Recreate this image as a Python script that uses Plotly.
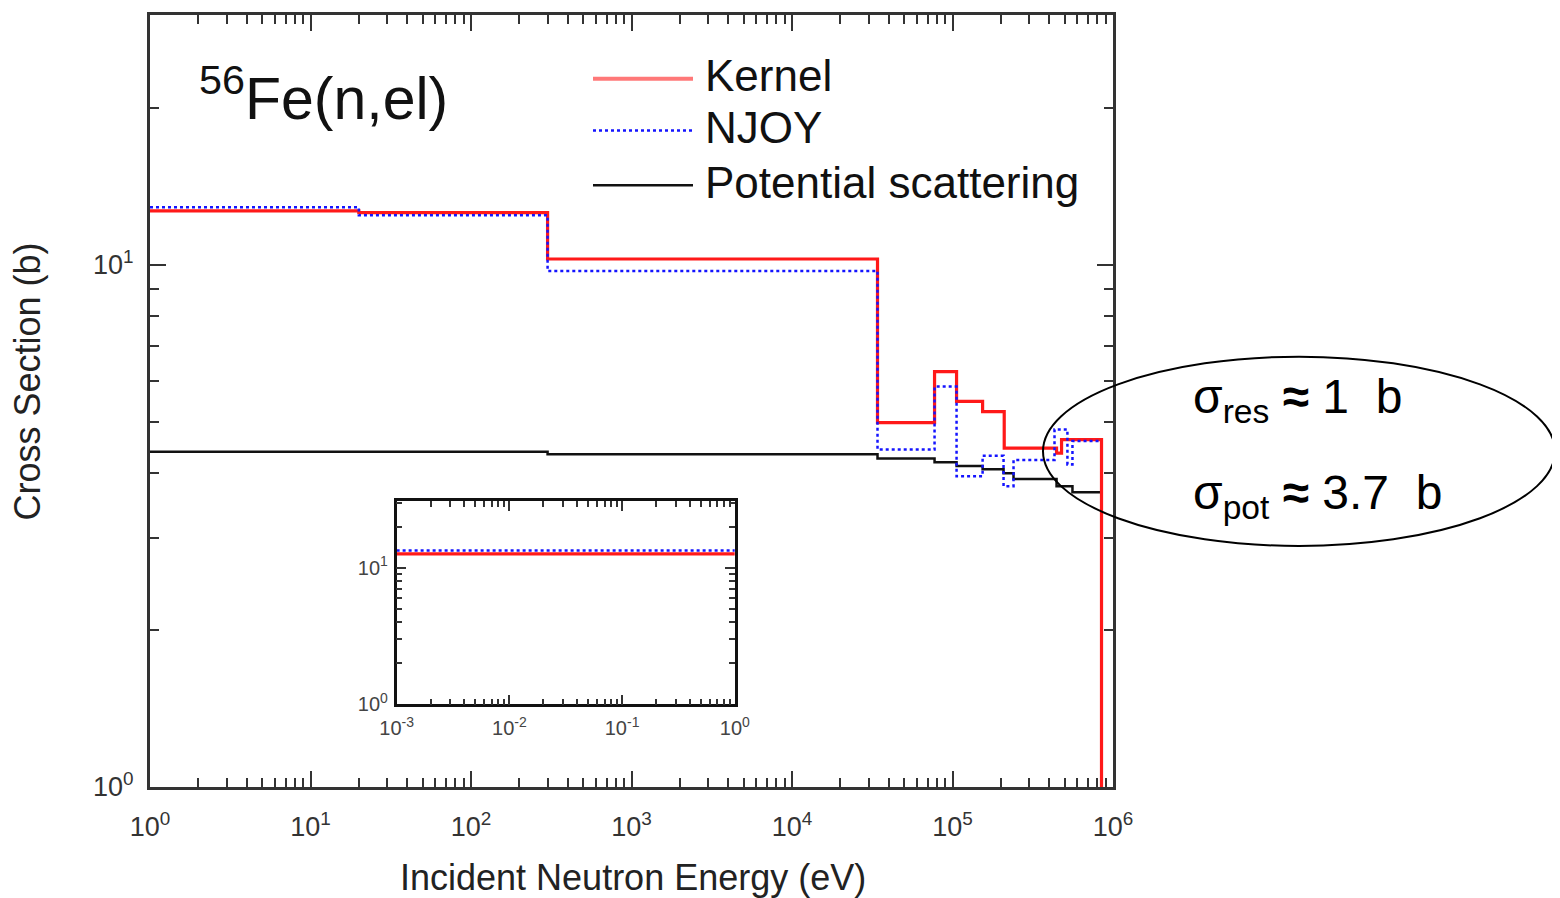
import plotly.graph_objects as go

# ---------------- data ----------------
# Kernel (red): bin edges in eV and group values in barns
kernel_edges = [1, 20, 300, 34100, 77300, 106000, 154000, 210000, 445000, 478000, 848000]
kernel_vals = [12.7, 12.6, 10.27, 4.99, 6.25, 5.48, 5.24, 4.46, 4.36, 4.63]
kernel_after = 0.01  # drops off the axis after the last edge

# NJOY (blue dotted)
njoy_edges = [1, 20, 300, 34100, 77300, 106000, 154000, 208000, 240000, 432000, 520000, 559000, 848000]
njoy_vals = [12.9, 12.45, 9.74, 4.43, 5.85, 3.94, 4.31, 3.77, 4.23, 4.84, 4.15, 4.6]

# Potential scattering (black)
pot_edges = [1, 300, 34100, 77300, 106000, 154000, 208000, 240000, 445000, 559000, 848000]
pot_vals = [4.39, 4.34, 4.26, 4.19, 4.12, 4.06, 3.99, 3.89, 3.77, 3.67]

# Inset (thermal range)
inset_x = [0.001, 1.0]
inset_kernel = [12.65, 12.65]
inset_njoy = [13.4, 13.4]

x_ticks = [1, 10, 100, 1e3, 1e4, 1e5, 1e6]
x_ticktext = ["10<sup>0</sup>", "10<sup>1</sup>", "10<sup>2</sup>", "10<sup>3</sup>",
              "10<sup>4</sup>", "10<sup>5</sup>", "10<sup>6</sup>"]
y_ticks = [1, 10]
y_ticktext = ["10<sup>0</sup>", "10<sup>1</sup>"]
inset_x_ticks = [0.001, 0.01, 0.1, 1]
inset_x_ticktext = ["10<sup>-3</sup>", "10<sup>-2</sup>", "10<sup>-1</sup>", "10<sup>0</sup>"]

RED = "rgb(255,25,25)"
BLUE = "rgb(20,20,255)"
FONT = "Liberation Sans, Arial, sans-serif"

fig = go.Figure()

fig.add_trace(go.Scatter(x=pot_edges, y=pot_vals + [pot_vals[-1]], mode="lines",
                         line=dict(color="#111", width=2.5, shape="hv"),
                         name="Potential scattering", showlegend=False))
fig.add_trace(go.Scatter(x=kernel_edges, y=kernel_vals + [kernel_after], mode="lines",
                         line=dict(color=RED, width=3.2, shape="hv"),
                         name="Kernel", showlegend=False))
fig.add_trace(go.Scatter(x=njoy_edges, y=njoy_vals + [njoy_vals[-1]], mode="lines",
                         line=dict(color=BLUE, width=2.5, shape="hv", dash="dot"),
                         name="NJOY", showlegend=False))

# inset
fig.add_trace(go.Scatter(x=inset_x, y=inset_kernel, mode="lines", xaxis="x2", yaxis="y2",
                         line=dict(color=RED, width=3.2), showlegend=False, name="Kernel"))
fig.add_trace(go.Scatter(x=inset_x, y=inset_njoy, mode="lines", xaxis="x2", yaxis="y2",
                         line=dict(color=BLUE, width=2.5, dash="dot"), showlegend=False, name="NJOY"))

AX = "#333"
tickfont = dict(family=FONT, size=27, color="#333")
minor = dict(ticks="inside", ticklen=9, tickwidth=2, tickcolor=AX, dtick="D1", showgrid=False)

# the page body adds an 8px offset, so the figure is 8px smaller and margins are shifted
fig.update_layout(
    width=1552, height=890,
    margin=dict(l=142, r=447, t=4, b=111),
    paper_bgcolor="white", plot_bgcolor="white",
    font=dict(family=FONT, color="#111"),
    xaxis=dict(type="log", range=[0, 6], tickmode="array", tickvals=x_ticks, ticktext=x_ticktext,
               ticks="inside", ticklen=16, tickwidth=2, tickcolor=AX, minor=minor,
               showline=True, linecolor=AX, linewidth=3, mirror="ticks",
               showgrid=False, zeroline=False, tickfont=tickfont, ticklabelstandoff=14),
    yaxis=dict(type="log", range=[0, 1.479], tickmode="array", tickvals=y_ticks, ticktext=y_ticktext,
               ticks="inside", ticklen=16, tickwidth=2, tickcolor=AX, minor=minor,
               showline=True, linecolor=AX, linewidth=3, mirror="ticks",
               showgrid=False, zeroline=False, tickfont=tickfont, ticklabelstandoff=8),
    xaxis2=dict(type="log", range=[-3, 0], domain=[0.2561, 0.6073], anchor="y2",
                tickmode="array", tickvals=inset_x_ticks, ticktext=inset_x_ticktext,
                ticks="inside", ticklen=10, tickwidth=2, tickcolor=AX,
                minor=dict(ticks="inside", ticklen=6, tickwidth=2, tickcolor=AX, dtick="D1", showgrid=False),
                showline=True, linecolor="#111", linewidth=2.5, mirror="ticks",
                showgrid=False, zeroline=False, tickfont=dict(family=FONT, size=20, color="#444"),
                ticklabelstandoff=4),
    yaxis2=dict(type="log", range=[0, 1.489], domain=[0.1071, 0.3703], anchor="x2",
                tickmode="array", tickvals=y_ticks, ticktext=y_ticktext,
                ticks="inside", ticklen=10, tickwidth=2, tickcolor=AX,
                minor=dict(ticks="inside", ticklen=6, tickwidth=2, tickcolor=AX, dtick="D1", showgrid=False),
                showline=True, linecolor="#111", linewidth=2.5, mirror="ticks",
                showgrid=False, zeroline=False, tickfont=dict(family=FONT, size=20, color="#444"),
                ticklabelstandoff=2),
)

def px_x(px):
    return (px - 150) / 963.0

def px_y(py):
    return (787 - py) / 775.0

annotations = []
# title of the reaction
annotations.append(dict(text="<sup>56</sup>Fe(n,el)", x=px_x(197), y=px_y(92), xref="paper", yref="paper",
                        xanchor="left", yanchor="middle", showarrow=False,
                        font=dict(family=FONT, size=59, color="#111")))
# axis titles
annotations.append(dict(text="Incident Neutron Energy (eV)", x=px_x(633), y=px_y(878), xref="paper", yref="paper",
                        xanchor="center", yanchor="middle", showarrow=False,
                        font=dict(family=FONT, size=36, color="#222")))
annotations.append(dict(text="Cross Section (b)", x=px_x(28), y=px_y(380), xref="paper", yref="paper",
                        xanchor="center", yanchor="middle", showarrow=False, textangle=-90,
                        font=dict(family=FONT, size=36, color="#222")))

# manual legend
legend_items = [("Kernel", "rgb(255,120,120)", 4, "solid", 76),
                ("NJOY", BLUE, 2.5, "dot", 128),
                ("Potential scattering", "#111", 2.5, "solid", 183)]
shapes = []
for label, col, w, dash, py in legend_items:
    shapes.append(dict(type="line", xref="paper", yref="paper", x0=px_x(593), x1=px_x(693),
                       y0=px_y(py), y1=px_y(py), line=dict(color=col, width=w, dash=dash)))
    annotations.append(dict(text=label, x=px_x(703), y=px_y(py - 3), xref="paper", yref="paper",
                            xanchor="left", yanchor="middle", showarrow=False,
                            font=dict(family=FONT, size=44, color="#111")))

# ellipse and resonance/potential notes
shapes.append(dict(type="circle", xref="paper", yref="paper", x0=px_x(1043), x1=px_x(1555),
                   y0=px_y(545), y1=px_y(355), line=dict(color="black", width=2)))
annotations.append(dict(text="σ<sub>res</sub> <b>≈</b> 1\u00a0 b", x=px_x(1191), y=px_y(398),
                        xref="paper", yref="paper",
                        xanchor="left", yanchor="middle", showarrow=False,
                        font=dict(family=FONT, size=48, color="black")))
annotations.append(dict(text="σ<sub>pot</sub> <b>≈</b> 3.7\u00a0 b", x=px_x(1191), y=px_y(495),
                        xref="paper", yref="paper",
                        xanchor="left", yanchor="middle", showarrow=False,
                        font=dict(family=FONT, size=48, color="black")))

fig.update_layout(annotations=annotations, shapes=shapes)

fig.write_html("out.html")
